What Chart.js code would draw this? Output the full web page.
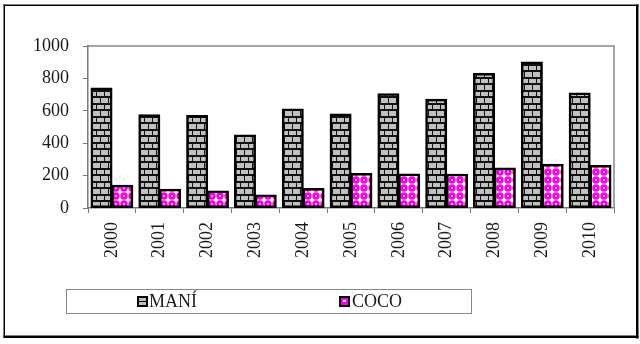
<!DOCTYPE html>
<html>
<head>
<meta charset="utf-8">
<script src="https://cdn.jsdelivr.net/npm/chart.js@4"></script>
<style>
  html, body { margin: 0; padding: 0; background: #fff; }
  #wrap { position: relative; width: 640px; height: 344px; }
</style>
</head>
<body>
<div id="wrap"><canvas id="chart" width="640" height="344"></canvas></div>
<script>
const years = ['2000', '2001', '2002', '2003', '2004', '2005', '2006', '2007', '2008', '2009', '2010'];
const mani = [740, 575, 570, 450, 610, 580, 705, 670, 830, 900, 710];
const coco = [140, 115, 105, 80, 120, 212, 210, 208, 247, 270, 262];
const yTicks = [0, 200, 400, 600, 800, 1000];

const FONT = '"Liberation Serif", "Times New Roman", serif';

// brick fill for MANÍ
function brickPattern() {
  const c = document.createElement('canvas');
  c.width = 16; c.height = 13;
  const g = c.getContext('2d');
  g.fillStyle = '#111';
  g.fillRect(0, 0, 16, 13);
  g.fillStyle = '#c0c0c0';
  g.fillRect(1, 1, 7, 4);
  g.fillRect(9, 1, 7, 4);
  g.fillRect(0, 7, 4, 5);
  g.fillRect(5, 7, 7, 5);
  g.fillRect(13, 7, 3, 5);
  return g.createPattern(c, 'repeat');
}

// magenta / cream dots for COCO
function cocoPattern() {
  const c = document.createElement('canvas');
  c.width = 8; c.height = 8;
  const g = c.getContext('2d');
  g.fillStyle = '#fff8c8';
  g.fillRect(0, 0, 8, 8);
  g.fillStyle = '#f000f0';
  g.beginPath();
  g.arc(4, 4, 3.7, 0, Math.PI * 2);
  g.fill();
  g.fillStyle = '#f8a0f0';
  g.fillRect(3, 3, 2, 2);
  return g.createPattern(c, 'repeat');
}

const maniFill = brickPattern();
const cocoFill = cocoPattern();

const frame = {
  id: 'frame',
  beforeDatasetsDraw(chart) {
    const { ctx, chartArea: a } = chart;
    ctx.save();
    ctx.strokeStyle = '#888';
    ctx.lineWidth = 1.5;
    ctx.beginPath();
    ctx.moveTo(a.left, a.top);
    ctx.lineTo(a.right, a.top);
    ctx.lineTo(a.right, a.bottom);
    ctx.stroke();
    ctx.restore();
  },
  afterDraw(chart) {
    const ctx = chart.ctx;
    ctx.save();
    // outer box with shadow edge
    ctx.fillStyle = '#000';
    ctx.fillRect(3.5, 4.5, 1.5, 333);
    ctx.fillRect(3.5, 4.5, 635, 1.5);
    ctx.fillRect(636, 4.5, 2.5, 334);
    ctx.fillRect(3.5, 335.5, 635, 2.5);
    // legend
    ctx.strokeStyle = '#888';
    ctx.lineWidth = 1;
    ctx.strokeRect(66.5, 289.5, 405, 24);
    ctx.font = '18px ' + FONT;
    ctx.textBaseline = 'middle';
    // MANÍ swatch
    ctx.fillStyle = '#000';
    ctx.fillRect(137, 296, 11, 11);
    ctx.fillStyle = '#c0c0c0';
    ctx.fillRect(139, 298, 7, 3);
    ctx.fillRect(139, 302, 7, 3);
    ctx.fillStyle = '#1a1a1a';
    ctx.fillText('MANÍ', 149, 302);
    // COCO swatch
    ctx.fillStyle = '#000';
    ctx.fillRect(339, 296, 11, 11);
    ctx.fillStyle = '#f000f0';
    ctx.fillRect(341, 298, 7, 7);
    ctx.fillStyle = '#fff8c8';
    ctx.fillRect(343, 300, 3, 2);
    ctx.fillStyle = '#1a1a1a';
    ctx.fillText('COCO', 352, 302);
    ctx.restore();
  }
};

new Chart(document.getElementById('chart'), {
  type: 'bar',
  data: {
    labels: years,
    datasets: [
      {
        label: 'MANÍ',
        data: mani,
        backgroundColor: maniFill,
        borderColor: '#000',
        borderWidth: 2.5,
        borderSkipped: false,
        inflateAmount: 0.6,
      },
      {
        label: 'COCO',
        data: coco,
        backgroundColor: cocoFill,
        borderColor: '#000',
        borderWidth: 2.5,
        borderSkipped: false,
        inflateAmount: 0.6,
      },
    ],
  },
  options: {
    responsive: false,
    animation: false,
    devicePixelRatio: 1,
    layout: { padding: { left: 0, top: 46, right: 26, bottom: 0 } },
    plugins: {
      legend: { display: false },
      tooltip: { enabled: false },
    },
    datasets: {
      bar: { categoryPercentage: 0.87, barPercentage: 1.0 },
    },
    scales: {
      x: {
        grid: { display: true, drawOnChartArea: false, drawTicks: true, tickLength: 5, color: '#777', offset: true },
        border: { display: true, color: '#777', width: 1.5 },
        ticks: {
          minRotation: 90, maxRotation: 90, padding: 9,
          color: '#1a1a1a', font: { family: FONT, size: 18 },
        },
        afterFit(scale) { scale.height = 136; },
      },
      y: {
        min: 0, max: 1000,
        afterBuildTicks(scale) { scale.ticks = yTicks.map(v => ({ value: v })); },
        grid: { display: true, drawOnChartArea: false, drawTicks: true, tickLength: 5, color: '#777' },
        border: { display: true, color: '#777', width: 1.5 },
        ticks: {
          padding: 14,
          color: '#1a1a1a', font: { family: FONT, size: 18 },
          callback: (v) => String(v),
        },
        afterFit(scale) { scale.width = 88; },
      },
    },
  },
  plugins: [frame],
});
</script>
</body>
</html>
